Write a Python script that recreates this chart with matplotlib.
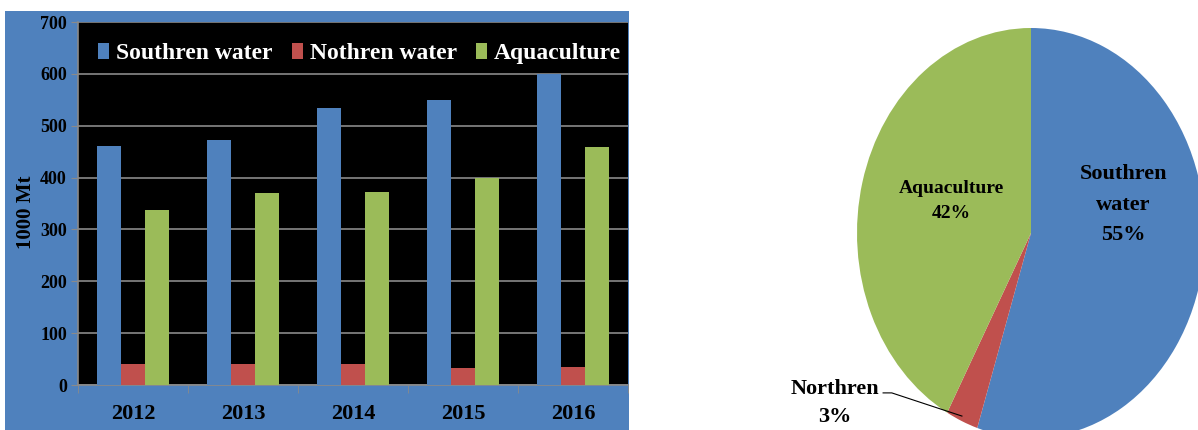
import numpy as np
import matplotlib.pyplot as plt
from matplotlib.patches import Rectangle

years = ['2012', '2013', '2014', '2015', '2016']
southern = [460, 473, 535, 550, 600]
northern = [40, 40, 40, 32, 34]
aquaculture = [338, 370, 372, 400, 458]
series_names = ['Southren water', 'Nothren water', 'Aquaculture']

pie_labels = ['Southren\nwater', 'Northren', 'Aquaculture']
pie_shares = [55, 3, 42]

colors = ['#4F81BD', '#C0504D', '#9BBB59']

plt.rcParams['font.family'] = ['Liberation Serif', 'DejaVu Serif']
plt.rcParams['font.weight'] = 'bold'
plt.rcParams['axes.labelweight'] = 'bold'

W, H = 1198, 430
fig = plt.figure(figsize=(W / 100, H / 100), dpi=100)

# blue frame behind the bar chart
fig.patches.append(Rectangle((5 / W, 0), 624 / W, 1 - 11 / H,
                             transform=fig.transFigure, facecolor='#4F81BD',
                             edgecolor='none', zorder=-5))

# bar chart
ax = fig.add_axes([78 / W, 1 - 385 / H, 550 / W, 363 / H])
ax.set_facecolor('black')
x = np.arange(len(years))
w = 0.22
for i, (vals, name) in enumerate(zip([southern, northern, aquaculture], series_names)):
    ax.bar(x + (i - 1) * w, vals, w, color=colors[i], label=name, zorder=3)

ax.set_xlim(-0.5, 4.5)
ax.set_ylim(0, 700)
ax.set_yticks(range(0, 701, 100))
ax.yaxis.grid(True, color='#8a8a8a', linewidth=1.2, zorder=1)
ax.set_xticks(x)
ax.set_xticklabels(years)
ax.set_xticks(np.arange(-0.5, 5, 1), minor=True)
ax.tick_params(axis='x', which='major', length=0, pad=14, labelsize=16)
ax.tick_params(axis='x', which='minor', length=6, color='#8a8a8a', direction='out')
ax.tick_params(axis='y', length=5, color='#8a8a8a', pad=3, labelsize=13)
for side in ['top', 'right']:
    ax.spines[side].set_visible(False)
for side in ['left', 'bottom']:
    ax.spines[side].set_color('#8a8a8a')
    ax.spines[side].set_linewidth(1.2)
ax.set_ylabel('1000 Mt', fontsize=15, fontweight='bold')
ax.yaxis.set_label_coords(-0.077, 0.475)

leg = ax.legend(loc='center', bbox_to_anchor=(0.512, 0.913), ncol=3, frameon=False,
                prop={'weight': 'bold', 'size': 17},
                handlelength=0.47, handleheight=0.64, handletextpad=0.3,
                columnspacing=0.8, borderaxespad=0)
for t in leg.get_texts():
    t.set_color('white')

# pie chart (stretched vertically, as in the original)
cx, cy, rx, ry = 1031, 233, 174, 205
pax = fig.add_axes([(cx - rx) / W, 1 - (cy + ry) / H, 2 * rx / W, 2 * ry / H])
pax.pie(pie_shares, colors=colors, startangle=90, counterclock=False,
        wedgeprops={'linewidth': 0})
pax.set_aspect('auto')
pax.set_xlim(-1, 1)
pax.set_ylim(-1, 1)
pax.axis('off')

txt = dict(ha='center', va='center', clip_on=False)
pax.text(0.53, 0.137, f'{pie_labels[0]}\n{pie_shares[0]}%', fontsize=16, linespacing=1.7, **txt)
pax.text(-0.46, 0.156, f'{pie_labels[2]}\n{pie_shares[2]}%', fontsize=14, linespacing=1.6, **txt)
pax.text(-1.126, -0.83, f'{pie_labels[1]}\n{pie_shares[1]}%', fontsize=16, linespacing=1.55, **txt)
pax.plot([-0.85, -0.80, -0.397], [-0.78, -0.78, -0.893], color='black', linewidth=0.8,
         clip_on=False)

fig.savefig('out.png', dpi=100)
